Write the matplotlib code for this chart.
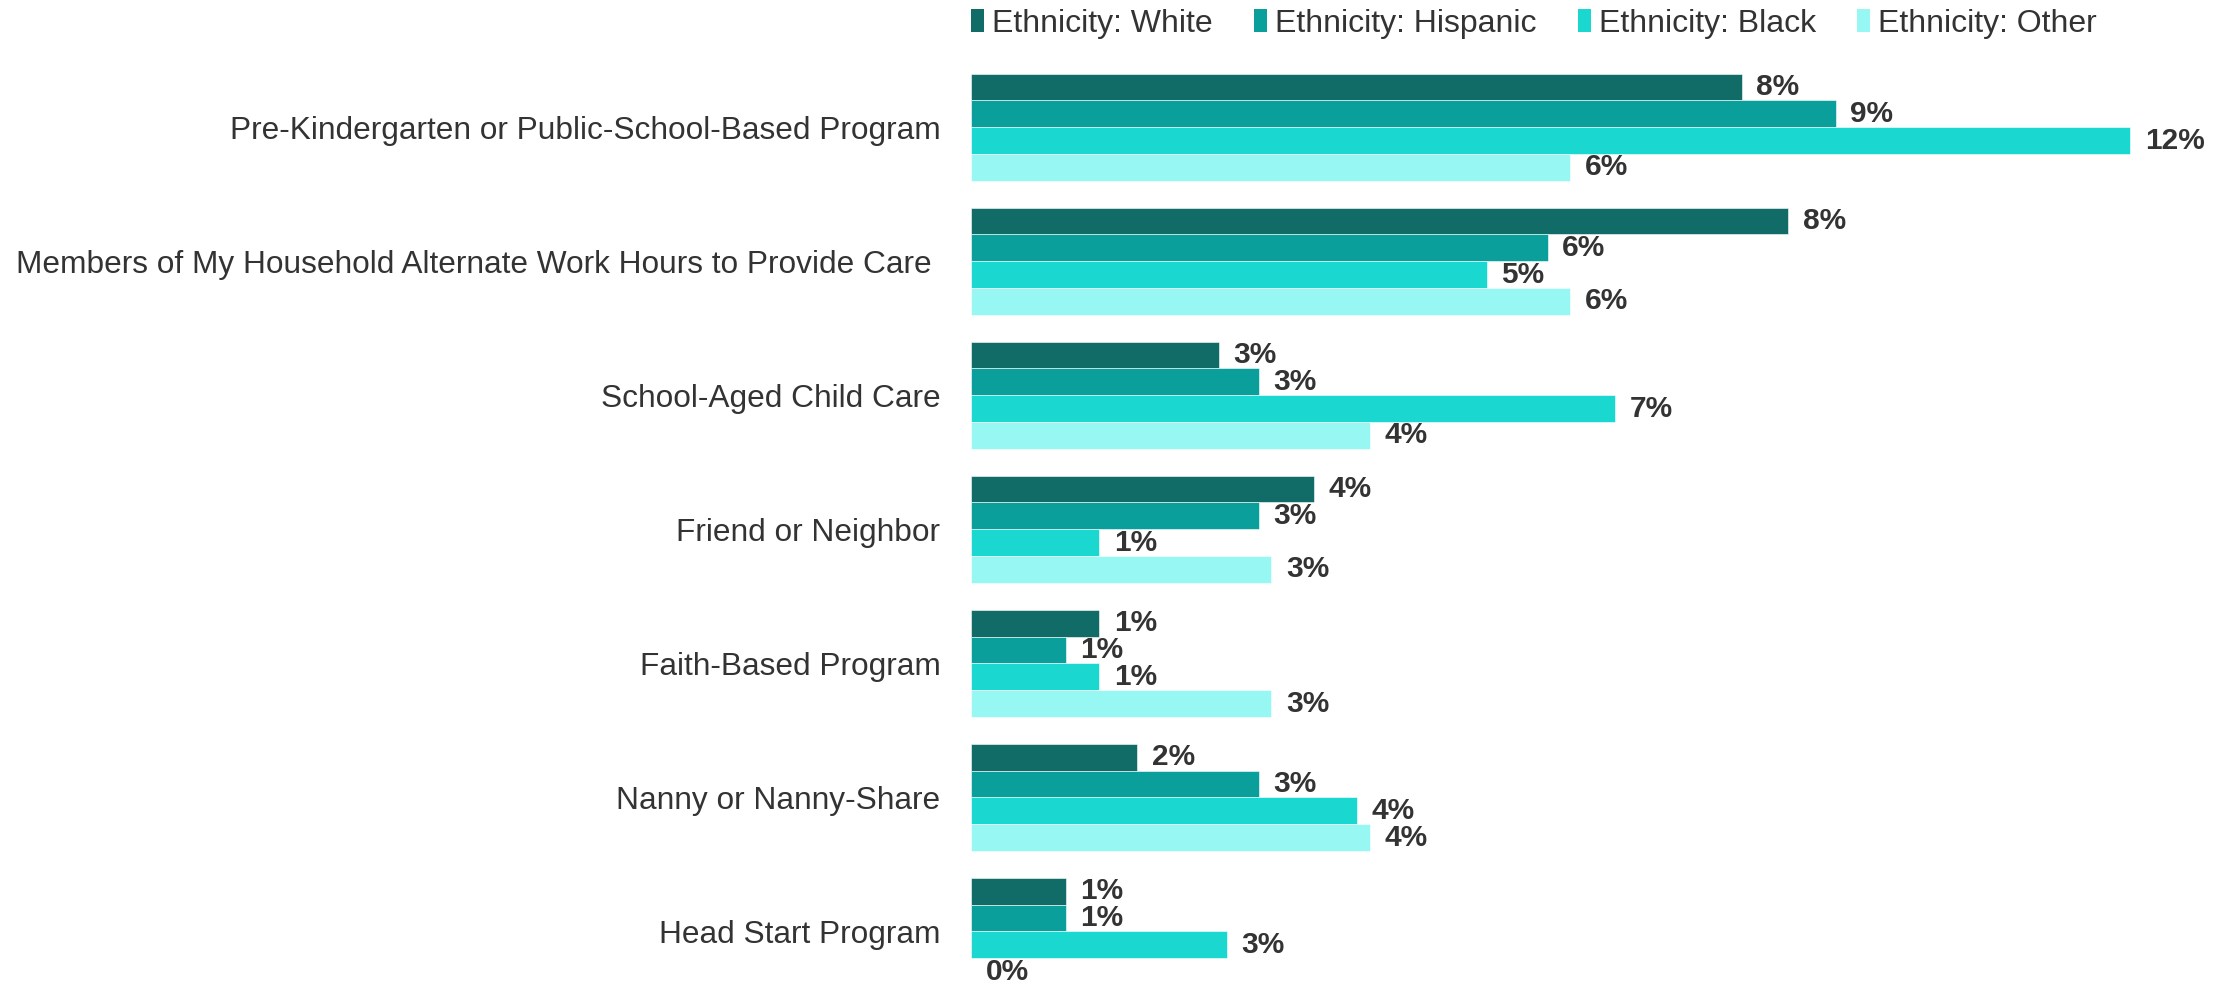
import numpy as np
import matplotlib.pyplot as plt
from matplotlib.patches import Patch

plt.rcParams['font.family'] = ['Liberation Sans', 'DejaVu Sans']

categories = ['Pre-Kindergarten or Public-School-Based Program',
              'Members of My Household Alternate Work Hours to Provide Care ',
              'School-Aged Child Care',
              'Friend or Neighbor',
              'Faith-Based Program',
              'Nanny or Nanny-Share',
              'Head Start Program']
series_names = ['Ethnicity: White', 'Ethnicity: Hispanic',
                'Ethnicity: Black', 'Ethnicity: Other']
# percent
white = [7.98, 8.46, 2.57, 3.55, 1.33, 1.72, 0.98]
hispanic = [8.95, 5.97, 2.98, 2.98, 0.98, 2.98, 0.98]
black = [12.0, 5.34, 6.67, 1.33, 1.33, 4.0, 2.65]
other = [6.2, 6.2, 4.13, 3.11, 3.11, 4.13, 0.0]
colors = ['#116B66', '#0A9F9A', '#1AD8CF', '#97F8F3']

fig = plt.figure(figsize=(22.2, 9.85), dpi=100)
ax = fig.add_axes([0.4374, 0.0, 0.5626, 0.9253])

y = np.arange(len(categories))
h = 0.2
for k, vals in enumerate([white, hispanic, black, other]):
    pos = y - 0.4 + h * (k + 0.5)
    ax.barh(pos, vals, height=h, color=colors[k], edgecolor='white',
            linewidth=0.4, label=series_names[k])
    for p, v in zip(pos, vals):
        ax.text(v + 0.15, p, f'{v:.0f}%', va='center', ha='left',
                fontsize=21.5, fontweight='bold', color='#333333')

ax.set_xlim(0, 12.93)
ax.set_ylim(6.4, -0.4)
ax.set_yticks(y)
ax.set_yticklabels(categories, fontsize=22.8, color='#333333')
ax.tick_params(axis='y', length=0, pad=22)
ax.set_xticks([])
for s in ax.spines.values():
    s.set_visible(False)

handles = [Patch(facecolor=c, edgecolor='none') for c in colors]
fig.legend(handles, series_names, loc='center', bbox_to_anchor=(0.691, 0.976),
           ncol=4, frameon=False, fontsize=23, handlelength=0.4,
           handleheight=0.7, handletextpad=0.25, columnspacing=1.3,
           labelcolor='#333333')

fig.savefig('out.png', dpi=100)
